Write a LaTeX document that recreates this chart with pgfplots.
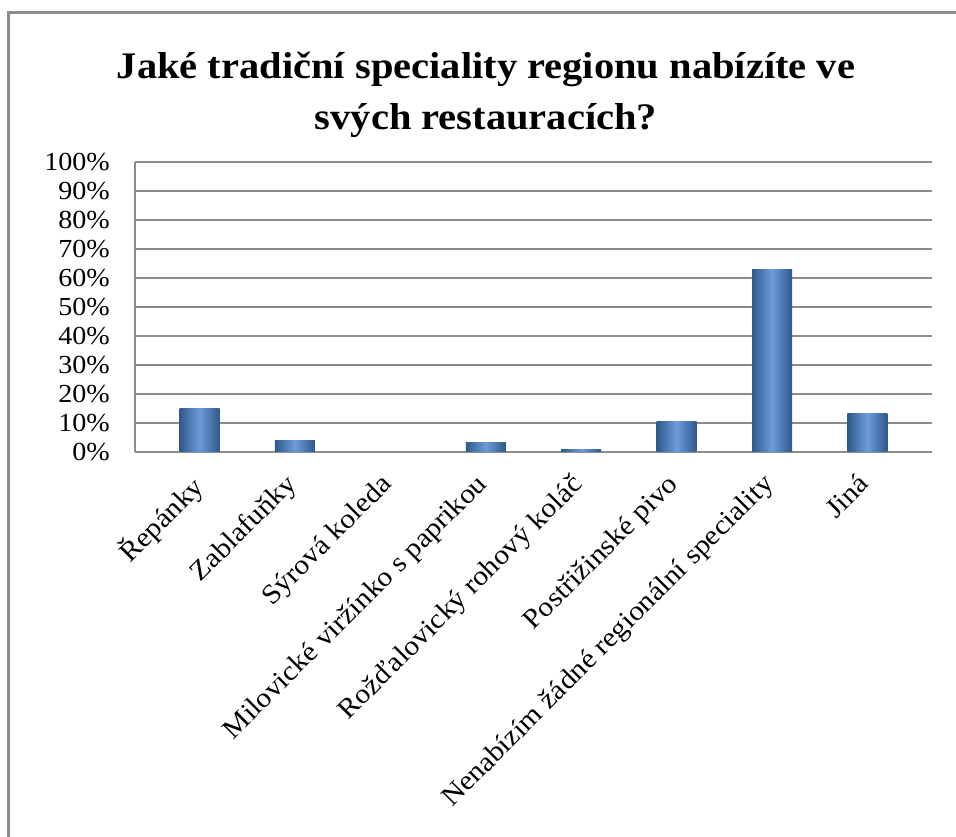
\documentclass[border=0pt]{standalone}
\usepackage{fontspec}
\setmainfont[FakeStretch=1.08]{Liberation Serif}
\usepackage{pgfplots}
\pgfplotsset{compat=1.18}
\definecolor{framegray}{HTML}{8C8C8C}
\definecolor{gridgray}{HTML}{8C8C8C}
\definecolor{bardark}{HTML}{30598B}
\definecolor{barlight}{HTML}{6B9CDA}

\pgfplotsset{
  cylbar/.style={ybar, bar width=40pt, bar shift=0pt, draw=none,
    left color=bardark, right color=bardark, middle color=barlight},
}

\begin{document}
\begin{tikzpicture}[x=1pt,y=1pt]
\useasboundingbox (0,0) rectangle (956,836);
\fill[white] (0,0) rectangle (956,836);
% chart frame (top and left edges)
\draw[framegray, line width=2.5pt] (8.5,-2) -- (8.5,823.5) -- (960,823.5);
% title
\node[anchor=base, inner sep=0pt, font=\fontsize{37.5}{44}\selectfont\bfseries] at (486,757) {Jaké tradiční speciality regionu nabízíte ve};
\node[anchor=base, inner sep=0pt, font=\fontsize{37.5}{44}\selectfont\bfseries] at (486,706) {svých restauracích?};
\begin{axis}[
  at={(135pt,384.3pt)}, anchor=south west,
  scale only axis, width=797pt, height=289.4pt,
  xmin=-0.677, xmax=7.677, ymin=0, ymax=100,
  axis x line*=bottom, axis y line*=left,
  axis line style={gridgray, line width=2pt},
  ymajorgrids, grid style={gridgray, line width=2pt},
  major tick length=0pt,
  ytick={0,10,20,30,40,50,60,70,80,90,100},
  yticklabels={0\%,10\%,20\%,30\%,40\%,50\%,60\%,70\%,80\%,90\%,100\%},
  xtick={0,1,2,3,4,5,6,7},
  xticklabels={Řepánky, Zablafuňky, Sýrová koleda, Milovické viržínko s paprikou, Rožďalovický rohový koláč, Postřižinské pivo, Nenabízím žádné regionální speciality, Jiná},
  xticklabel style={xshift=-11pt, yshift=-20pt, rotate=45, anchor=north east, inner sep=0pt, font=\fontsize{27.5}{32}\selectfont},
  yticklabel style={anchor=east, inner sep=0pt, xshift=-25pt, font=\fontsize{26}{30}\selectfont},
  clip=false,
]
% one plot per bar so that each column gets its own cylinder shading
\addplot[cylbar] coordinates {(0,15.0)};
\addplot[cylbar] coordinates {(1,4.0)};
\addplot[ybar, bar width=40pt, bar shift=0pt, draw=none, fill=bardark] coordinates {(2,0)};
\addplot[cylbar] coordinates {(3,3.2)};
\addplot[cylbar] coordinates {(4,0.7)};
\addplot[cylbar] coordinates {(5,10.6)};
\addplot[cylbar] coordinates {(6,62.8)};
\addplot[cylbar] coordinates {(7,13.1)};
\end{axis}
\end{tikzpicture}
\end{document}
